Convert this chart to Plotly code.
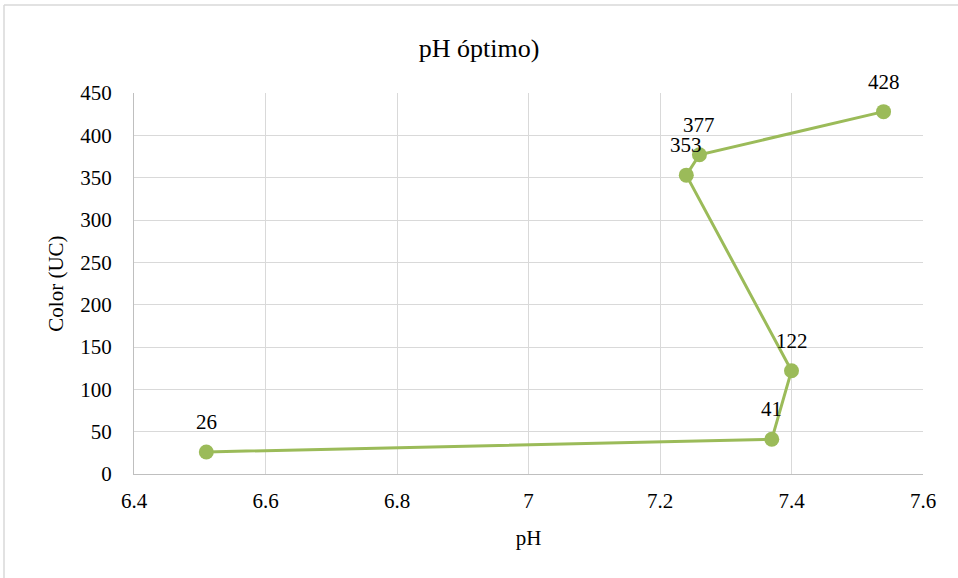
import plotly.graph_objects as go

ph = [6.51, 7.37, 7.40, 7.24, 7.26, 7.54]
color_uc = [26, 41, 122, 353, 377, 428]
labels = ["26", "41", "122", "353", "377", "428"]
x_ticks = [6.4, 6.6, 6.8, 7.0, 7.2, 7.4, 7.6]
x_tick_text = ["6.4", "6.6", "6.8", "7", "7.2", "7.4", "7.6"]
y_ticks = [0, 50, 100, 150, 200, 250, 300, 350, 400, 450]

FONT = "Times New Roman"
GREEN = "#9BBB59"

fig = go.Figure()
fig.add_trace(go.Scatter(
    x=ph, y=color_uc, mode="lines+markers",
    line=dict(color=GREEN, width=3),
    marker=dict(color=GREEN, size=15),
    cliponaxis=False, showlegend=False,
))

annotations = [
    dict(x=xv, y=yv, text=t, xref="x", yref="y", showarrow=False,
         xanchor="center", yanchor="bottom", yshift=16,
         font=dict(family=FONT, size=21, color="#000000"))
    for xv, yv, t in zip(ph, color_uc, labels)
]

fig.update_layout(
    width=958, height=578,
    margin=dict(l=134, r=35, t=93, b=104),
    paper_bgcolor="white", plot_bgcolor="white",
    font=dict(family=FONT, size=21, color="#000000"),
    title=dict(text="pH óptimo)", x=0.5, xanchor="center", y=0.917, yanchor="middle",
               font=dict(family=FONT, size=26, color="#000000")),
    annotations=annotations,
    xaxis=dict(range=[6.4, 7.6], tickvals=x_ticks, ticktext=x_tick_text,
               showgrid=True, gridcolor="#D9D9D9", gridwidth=1,
               showline=True, linecolor="#BFBFBF", linewidth=1,
               zeroline=False, ticks="", ticklabelstandoff=8,
               title=dict(text="pH", font=dict(family=FONT, size=21), standoff=18),
               tickfont=dict(family=FONT, size=21)),
    yaxis=dict(range=[0, 450], tickvals=y_ticks,
               showgrid=True, gridcolor="#D9D9D9", gridwidth=1,
               showline=True, linecolor="#BFBFBF", linewidth=1,
               zeroline=False, ticks="", ticklabelstandoff=17,
               title=dict(text="Color (UC)", font=dict(family=FONT, size=21), standoff=10),
               tickfont=dict(family=FONT, size=21)),
    shapes=[
        dict(type="line", xref="paper", yref="paper",
             x0=(4 - 134) / 789, x1=(1000 - 134) / 789,
             y0=(474 - 5) / 381, y1=(474 - 5) / 381,
             line=dict(color="#D9D9D9", width=1.5)),
        dict(type="line", xref="paper", yref="paper",
             x0=(4 - 134) / 789, x1=(4 - 134) / 789,
             y0=(474 - 5) / 381, y1=(474 - 620) / 381,
             line=dict(color="#D9D9D9", width=1.5)),
    ],
)

fig.write_html("out.html")
